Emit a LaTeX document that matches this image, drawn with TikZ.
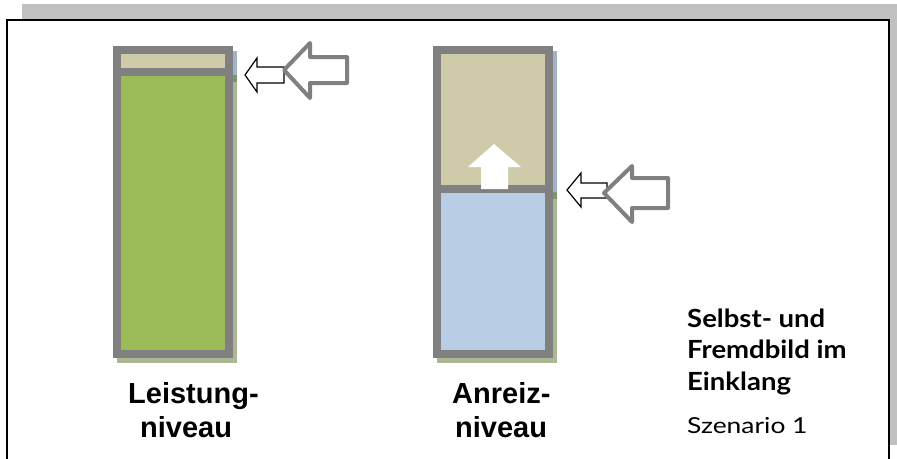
\documentclass[tikz,border=0pt]{standalone}
\usepackage{fontspec}
\setmainfont{Liberation Sans}
\newfontfamily\segoe[FakeStretch=1.1]{Lato}
\newfontfamily\segoereg[FakeStretch=1.2]{Lato}
\definecolor{bandgray}{HTML}{C0C0C0}
\definecolor{framegray}{HTML}{808080}
\definecolor{tanfill}{HTML}{CFCBAA}
\definecolor{greenfill}{HTML}{9BBB59}
\definecolor{bluefill}{HTML}{B9CDE5}
\definecolor{shblue}{HTML}{A2B2C8}
\definecolor{shdark}{HTML}{7E9670}
\definecolor{sholive}{HTML}{AAB795}
\tikzset{
  frame/.style={draw=framegray, line width=8pt},
  bigarrow/.style={draw=framegray, fill=white, line width=4pt, line join=round},
  smallarrow/.style={draw=black, fill=white, line width=1.2pt, line join=miter},
  lbl/.style={font=\bfseries\fontsize{29}{34}\selectfont, anchor=base west, inner sep=0pt},
  side/.style={font=\segoe\bfseries\fontsize{25}{30}\selectfont, anchor=base west, inner sep=0pt},
  sidereg/.style={font=\segoereg\fontsize{22}{27}\selectfont, anchor=base west, inner sep=0pt}
}
\begin{document}
\begin{tikzpicture}[x=1pt,y=-1pt]
\useasboundingbox (0,0) rectangle (897,458);
% background
\fill[bandgray] (22,4) rectangle (897,445);
\filldraw[fill=white, draw=black, line width=2pt] (7,20) rectangle (889,475);
% ---- left bar ----
\fill[shblue] (117,51) rectangle (237,75);
\fill[shdark] (117,75) rectangle (237,82);
\fill[sholive] (117,82) rectangle (237,363);
\fill[tanfill] (117,50) rectangle (229,72);
\fill[greenfill] (117,72) rectangle (229,354);
\draw[frame] (117,50) rectangle (229,354);
\draw[frame] (117,72) -- (229,72);
% ---- right bar ----
\fill[shblue] (437,51) rectangle (557,192);
\fill[shdark] (437,192) rectangle (557,199);
\fill[sholive] (437,199) rectangle (557,363);
\fill[tanfill] (437,50) rectangle (549,189);
\fill[bluefill] (437,189) rectangle (549,354);
\draw[frame] (437,50) rectangle (549,354);
\draw[frame] (437,189) -- (549,189);
% up arrow
\fill[white] (494,144) -- (521,167) -- (508,167) -- (508,189) -- (481,189) -- (481,167) -- (468,167) -- cycle;
% ---- left arrows ----
\draw[smallarrow] (245,75) -- (257,58) -- (257,67) -- (284,67) -- (284,83) -- (257,83) -- (257,92) -- cycle;
\draw[bigarrow] (284,70) -- (310,43) -- (310,57) -- (347,57) -- (347,83) -- (310,83) -- (310,98) -- cycle;
% ---- right arrows ----
\draw[smallarrow] (567,190) -- (581,173) -- (581,183) -- (607,183) -- (607,198) -- (581,198) -- (581,207) -- cycle;
\draw[bigarrow] (604,193) -- (632,166) -- (632,178) -- (668,178) -- (668,208) -- (632,208) -- (632,222) -- cycle;
% ---- labels ----
\node[lbl] (l1) at (128,403) {Leistung-};
\node[lbl] (l2) at (140,437) {niveau};
\node[lbl] (a1) at (452,403) {Anreiz-};
\node[lbl] (a2) at (455,437) {niveau};
\node[side] (s1) at (687,327) {Selbst- und};
\node[side] (s2) at (687,358) {Fremdbild im};
\node[side] (s3) at (687,390) {Einklang};
\node[sidereg] (s4) at (687,433) {Szenario 1};
\end{tikzpicture}
\end{document}
